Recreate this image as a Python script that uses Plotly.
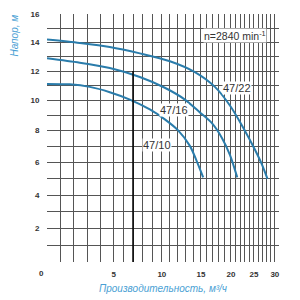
import numpy as np
import plotly.graph_objects as go

# ---- data ----
q_47_22 = [0, 2.45, 4.70, 7.71, 11.03, 14.23, 17.33, 19.83, 22.61, 25.24, 26.92, 28.24]
h_47_22 = [14.21, 13.97, 13.69, 13.24, 12.69, 11.93, 10.93, 9.67, 8.2, 6.79, 5.88, 5.0]

q_47_16 = [0, 2.45, 4.70, 7.71, 10.38, 12.95, 14.87, 16.83, 18.5, 19.83, 21.37]
h_47_16 = [12.9, 12.59, 12.21, 11.6, 10.87, 10.07, 9.2, 8.47, 7.52, 6.48, 5.09]

q_47_10 = [0, 1.70, 3.2, 4.70, 6.67, 8.75, 10.38, 12.05, 13.59, 14.49, 15.38]
h_47_10 = [11.13, 11.1, 10.93, 10.57, 10.07, 9.4, 8.73, 8.0, 7.03, 6.06, 5.09]

series_names = ["47/22", "47/16", "47/10"]
label_q = [21.3, 11.5, 9.5]
label_h = [10.87, 9.33, 7.06]

x_grid_values = list(range(0, 32))
x_tick_values = [5, 10, 15, 20, 25, 30]
x_tick_labels = ["5", "10", "15", "20", "25", "30"]
y_grid_values = list(range(0, 17))
y_tick_values = [2, 4, 6, 8, 10, 12, 14, 16]
y_tick_labels = ["2", "4", "6", "8", "10", "12", "14", "16"]
origin_label = "0"

speed_text = "n=2840 min<sup>-1</sup>"
x_title = "Производительность, м³/ч"
y_title = "Напор, м"

# ---- axis calibration (the printed chart uses non-uniform scales) ----
XK = [0, 5, 10, 15, 20, 25, 31]
XP = [0, 66.7, 114.7, 153.7, 183.7, 206.7, 231.7]
YK = [0, 2, 4, 6, 8, 10, 12, 14, 16]
YP = [0, 34, 68, 101, 134, 164, 194, 223, 252]


def fx(v):
    return np.interp(np.asarray(v, dtype=float), XK, XP)


def fy(v):
    return np.interp(np.asarray(v, dtype=float), YK, YP)


curve_color = "#2a7cab"
title_color = "#4a9fd4"
text_color = "#333333"
grid_color = "#555555"
font_family = "Arial, Liberation Sans"

fig = go.Figure()
for q, h in [(q_47_22, h_47_22), (q_47_16, h_47_16), (q_47_10, h_47_10)]:
    fig.add_trace(go.Scatter(
        x=fx(q), y=fy(h), mode="lines",
        line=dict(color=curve_color, width=2, shape="spline", smoothing=0.8),
        showlegend=False, hoverinfo="skip"))

annotations = []
for name, q, h in zip(series_names, label_q, label_h):
    annotations.append(dict(x=float(fx(q)), y=float(fy(h)), text=name, showarrow=False,
                            font=dict(family=font_family, size=11, color=text_color),
                            bgcolor="white", borderpad=0))
annotations.append(dict(x=float(fx(20.9)), y=float(fy(14.5)), text=speed_text, showarrow=False,
                        font=dict(family=font_family, size=10.5, color=text_color),
                        bgcolor="white", borderpad=0))
annotations.append(dict(x=float(fx(0)), y=float(fy(0)), text="<b>" + origin_label + "</b>", showarrow=False,
                        xanchor="center", yanchor="middle", xshift=-6, yshift=-11,
                        font=dict(family=font_family, size=8, color=text_color)))
annotations.append(dict(x=0.5, y=0, xref="paper", yref="paper", yanchor="top", yshift=-19,
                        text="<i>" + x_title + "</i>", showarrow=False,
                        font=dict(family=font_family, size=10, color=title_color)))
annotations.append(dict(x=0, y=0.913, xref="paper", yref="paper", xanchor="center", yanchor="middle",
                        xshift=-32, textangle=-90,
                        text="<i>" + y_title + "</i>", showarrow=False,
                        font=dict(family=font_family, size=10, color=title_color)))

fig.add_shape(type="line", x0=float(fx(7)), x1=float(fx(7)), y0=float(fy(0)), y1=float(fy(12)),
              line=dict(color="black", width=1.5), layer="above")

fig.update_layout(
    width=300, height=300,
    margin=dict(l=47, r=21, t=10, b=38),
    paper_bgcolor="white", plot_bgcolor="white",
    annotations=annotations,
    xaxis=dict(range=[0, XP[-1]], tickmode="array", tickvals=fx(x_tick_values), ticktext=x_tick_labels,
               showgrid=True, gridcolor=grid_color, gridwidth=1, zeroline=False,
               minor=dict(tickmode="array", tickvals=fx(x_grid_values), showgrid=True,
                          gridcolor=grid_color, gridwidth=1, ticks=""),
               showline=False, ticks="outside", ticklen=4, tickcolor="rgba(0,0,0,0)",
               tickfont=dict(family=font_family, size=8, color=text_color, weight="bold"),
               fixedrange=True),
    yaxis=dict(range=[0, YP[-1]], tickmode="array", tickvals=fy(y_tick_values), ticktext=y_tick_labels,
               showgrid=True, gridcolor=grid_color, gridwidth=1, zeroline=False,
               minor=dict(tickmode="array", tickvals=fy(y_grid_values), showgrid=True,
                          gridcolor=grid_color, gridwidth=1, ticks=""),
               showline=False, ticks="outside", ticklen=5, tickcolor="rgba(0,0,0,0)",
               tickfont=dict(family=font_family, size=8, color=text_color, weight="bold"),
               fixedrange=True),
)

fig.write_html("out.html")
